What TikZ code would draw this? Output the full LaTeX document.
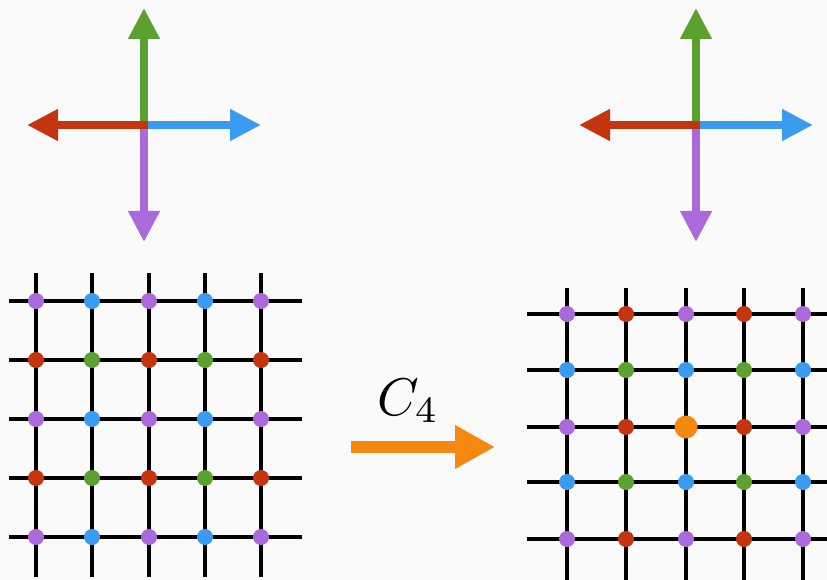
\documentclass[tikz,border=0pt]{standalone}
\usepackage{amsmath}
\usepackage{tikz}
\usetikzlibrary{arrows.meta,positioning}
\definecolor{sitered}{RGB}{196,52,14}
\definecolor{sitegreen}{RGB}{92,160,48}
\definecolor{siteblue}{RGB}{58,156,240}
\definecolor{sitepurple}{RGB}{170,106,220}
\definecolor{siteorange}{RGB}{245,137,16}
\tikzset{
  armline/.style={-{Triangle[length=31pt,width=30pt]}, line width=7.5pt, line cap=rect},
  gridline/.style={black, line width=3.2pt},
  sitedot/.style={circle, minimum size=16pt, inner sep=0pt},
  centerdot/.style={circle, fill=siteorange, minimum size=23pt, inner sep=0pt},
  rotarrow/.style={-{Triangle[length=40pt,width=41pt]}, line width=12pt, siteorange},
}

\begin{document}
\begin{tikzpicture}[x=1pt,y=-1pt]
  \fill[black!2] (0,0) rectangle (827,580);
  \useasboundingbox (0,0) rectangle (827,580);
  % direction crosses
  \foreach \cn/\cx in {lcross/144, rcross/696} {
    \coordinate (\cn) at (\cx,125);
    \coordinate (\cn-up) at (\cx,8);
    \coordinate (\cn-down) at (\cx,242);
    \coordinate (\cn-left) at (\cx-117,125);
    \coordinate (\cn-right) at (\cx+117,125);
    \draw[armline, sitegreen] (\cn) -- (\cn-up);
    \draw[armline, sitepurple] (\cn) -- (\cn-down);
    \draw[armline, siteblue] (\cn) -- (\cn-right);
    \draw[armline, sitered] (\cn) -- (\cn-left);
  }
  % left lattice
  \foreach \gx in {36,92,149,205,261} \draw[gridline] (\gx,273) -- (\gx,577);
  \foreach \gy in {301,360,419,478,537} \draw[gridline] (9,\gy) -- (302,\gy);
  \foreach \gy [count=\j] in {301,360,419,478,537} {
    \foreach \gx [count=\i] in {36,92,149,205,261} {
      \ifodd\j \ifodd\i \def\dotcol{sitepurple}\else\def\dotcol{siteblue}\fi
      \else \ifodd\i \def\dotcol{sitered}\else\def\dotcol{sitegreen}\fi \fi
      \node[sitedot, fill=\dotcol] (ldot-\j-\i) at (\gx,\gy) {};
    }
  }
  % right lattice
  \foreach \gx in {567,626,686,744,803} \draw[gridline] (\gx,288) -- (\gx,580);
  \foreach \gy in {314,370,427,482,539} \draw[gridline] (527,\gy) -- (827,\gy);
  \foreach \gy [count=\j] in {314,370,427,482,539} {
    \foreach \gx [count=\i] in {567,626,686,744,803} {
      \ifodd\j \ifodd\i \def\dotcol{sitepurple}\else\def\dotcol{sitered}\fi
      \else \ifodd\i \def\dotcol{siteblue}\else\def\dotcol{sitegreen}\fi \fi
      \ifnum\numexpr\j*10+\i\relax=33
        \node[centerdot] (rdot-\j-\i) at (\gx,\gy) {};
      \else
        \node[sitedot, fill=\dotcol] (rdot-\j-\i) at (\gx,\gy) {};
      \fi
    }
  }
  % rotation
  \coordinate (rotstart) at (351,447);
  \coordinate (rotend) at (495,447);
  \draw[rotarrow] (rotstart) -- (rotend);
  \node[scale=5.3, anchor=base] (rotlabel) at (408,415) {$C_4$};
\end{tikzpicture}
\end{document}
